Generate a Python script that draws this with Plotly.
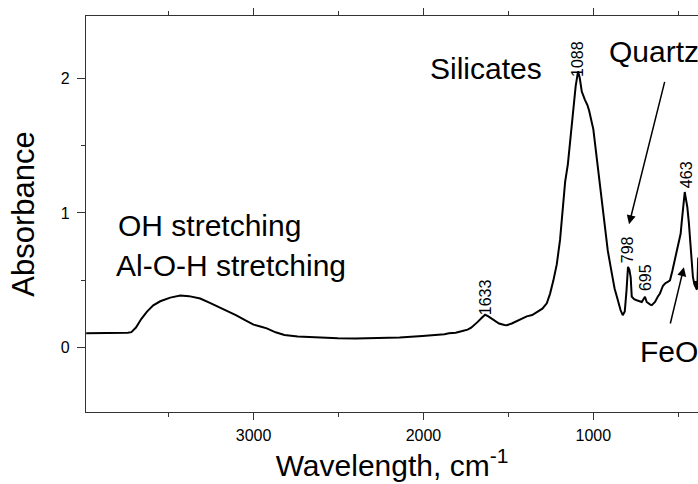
import plotly.graph_objects as go

# FTIR spectrum (wavenumber, absorbance)
wavenumber = [3985, 3900, 3800, 3740, 3719, 3692, 3660, 3627, 3590, 3549, 3490, 3431, 3380, 3314,
              3260, 3209, 3160, 3104, 3050, 3000, 2960, 2922, 2870, 2818, 2740, 2660, 2580, 2503,
              2400, 2268, 2140, 2006, 1940, 1876, 1850, 1810, 1771, 1740, 1719, 1695, 1679, 1655,
              1637, 1620, 1588, 1555, 1523, 1509, 1480, 1457, 1420, 1392, 1360, 1333, 1300, 1274,
              1255, 1235, 1215, 1196, 1186, 1175, 1166, 1150, 1131, 1115, 1104, 1090, 1080, 1068,
              1061, 1050, 1035, 1025, 1000, 974, 955, 935, 915, 895, 875, 856, 840, 827, 815, 805,
              796, 788, 780, 774, 760, 745, 730, 715, 705, 696, 686, 676, 665, 656, 647, 637, 620,
              608, 590, 578, 560, 549, 535, 520, 510, 500, 492, 486, 480, 474, 467, 462, 456, 447,
              438, 431, 424, 418, 414, 405, 390]
absorbance = [0.107, 0.108, 0.110, 0.112, 0.116, 0.150, 0.215, 0.268, 0.315, 0.345, 0.372, 0.387,
              0.383, 0.365, 0.335, 0.305, 0.275, 0.243, 0.205, 0.172, 0.158, 0.144, 0.115, 0.095,
              0.083, 0.077, 0.072, 0.070, 0.069, 0.070, 0.076, 0.087, 0.093, 0.100, 0.108, 0.112,
              0.124, 0.135, 0.149, 0.172, 0.194, 0.225, 0.245, 0.235, 0.206, 0.180, 0.169, 0.168,
              0.180, 0.194, 0.215, 0.233, 0.243, 0.262, 0.290, 0.330, 0.400, 0.500, 0.620, 0.800,
              0.946, 1.120, 1.230, 1.360, 1.595, 1.800, 1.940, 2.050, 2.000, 1.900, 1.870, 1.840,
              1.800, 1.760, 1.620, 1.350, 1.120, 0.900, 0.720, 0.578, 0.440, 0.355, 0.280, 0.242,
              0.270, 0.420, 0.600, 0.580, 0.520, 0.380, 0.360, 0.353, 0.345, 0.340, 0.360, 0.378,
              0.340, 0.329, 0.320, 0.316, 0.325, 0.340, 0.380, 0.403, 0.460, 0.477, 0.490, 0.500,
              0.570, 0.650, 0.710, 0.760, 0.800, 0.847, 0.930, 1.020, 1.120, 1.155, 1.110, 1.044,
              0.930, 0.820, 0.748, 0.620, 0.526, 0.470, 0.430]

x_range = [3986, 384]
y_range = [-0.476, 2.46]
x_ticks = [1000, 2000, 3000]
y_ticks = [0, 1, 2]

# peak labels: text, x, y (centre of rotated label)
peak_labels = ["1088", "1633", "798", "695", "463"]
peak_x = [1090, 1637, 802, 696, 455]
peak_y = [2.142, 0.376, 0.731, 0.524, 1.287]

# band names: text, x (left/centre), y, anchor
band_text = ["Silicates", "Quartz", "FeO", "OH stretching", "Al-O-H stretching"]
band_x = [1631, 919, 737, 3810, 3822]
band_y = [2.068, 2.194, -0.028, 0.905, 0.609]
band_anchor = ["center", "left", "left", "left", "left"]

# arrows: head (x, y) and tail (ax, ay) in data coordinates
arrow_x = [790, 467]
arrow_y = [0.916, 0.598]
arrow_ax = [578, 549]
arrow_ay = [1.983, 0.169]

FONT = "Liberation Sans, Arial, sans-serif"
AXCOL = "#333333"

fig = go.Figure()
fig.add_trace(go.Scatter(x=wavenumber, y=absorbance, mode="lines",
                         line=dict(color="black", width=2), showlegend=False))

ann = []
for t, x, y in zip(peak_labels, peak_x, peak_y):
    ann.append(dict(x=x, y=y, xref="x", yref="y", text=t, showarrow=False, textangle=-90,
                    xanchor="center", yanchor="middle",
                    font=dict(family=FONT, size=16, color="black")))
for t, x, y, a in zip(band_text, band_x, band_y, band_anchor):
    ann.append(dict(x=x, y=y, xref="x", yref="y", text=t, showarrow=False,
                    xanchor=a, yanchor="middle",
                    font=dict(family=FONT, size=30, color="black")))
for x, y, ax, ay in zip(arrow_x, arrow_y, arrow_ax, arrow_ay):
    ann.append(dict(x=x, y=y, xref="x", yref="y", ax=ax, ay=ay, axref="x", ayref="y",
                    text="", showarrow=True, arrowhead=2, arrowsize=1.2, arrowwidth=1.5,
                    arrowcolor="black", standoff=0))
# partially clipped arrow at the right edge
ann.append(dict(x=390, y=0.428, xref="x", yref="y", ax=2, ay=-34, text="", showarrow=True,
                arrowhead=2, arrowsize=1.2, arrowwidth=1.5, arrowcolor="black", standoff=0))

fig.update_layout(
    width=698, height=484,
    margin=dict(l=86, r=0, t=16, b=72),
    paper_bgcolor="white", plot_bgcolor="white",
    font=dict(family=FONT, color="black"),
    annotations=ann,
    xaxis=dict(range=x_range, tickvals=x_ticks, ticks="outside", ticklen=7, tickwidth=1.2,
               tickcolor=AXCOL, showline=True, linecolor=AXCOL, linewidth=1.3, mirror="ticks",
               showgrid=False, zeroline=False, tickfont=dict(size=16, family=FONT),
               ticklabelstandoff=2,
               minor=dict(dtick=500, tick0=0, ticks="outside", ticklen=4, tickcolor=AXCOL,
                          showgrid=False),
               title=dict(text="Wavelength, cm<sup>-1</sup>", font=dict(size=30, family=FONT),
                          standoff=11)),
    yaxis=dict(range=y_range, tickvals=y_ticks, ticks="outside", ticklen=8, tickwidth=1.2,
               tickcolor=AXCOL, showline=True, linecolor=AXCOL, linewidth=1.3, mirror=False,
               showgrid=False, zeroline=False, tickfont=dict(size=16, family=FONT),
               ticklabelstandoff=4,
               minor=dict(dtick=0.5, tick0=0, ticks="outside", ticklen=4, tickcolor=AXCOL,
                          showgrid=False),
               title=dict(text="Absorbance", font=dict(size=31, family=FONT), standoff=16)),
)

fig.write_html("out.html")
